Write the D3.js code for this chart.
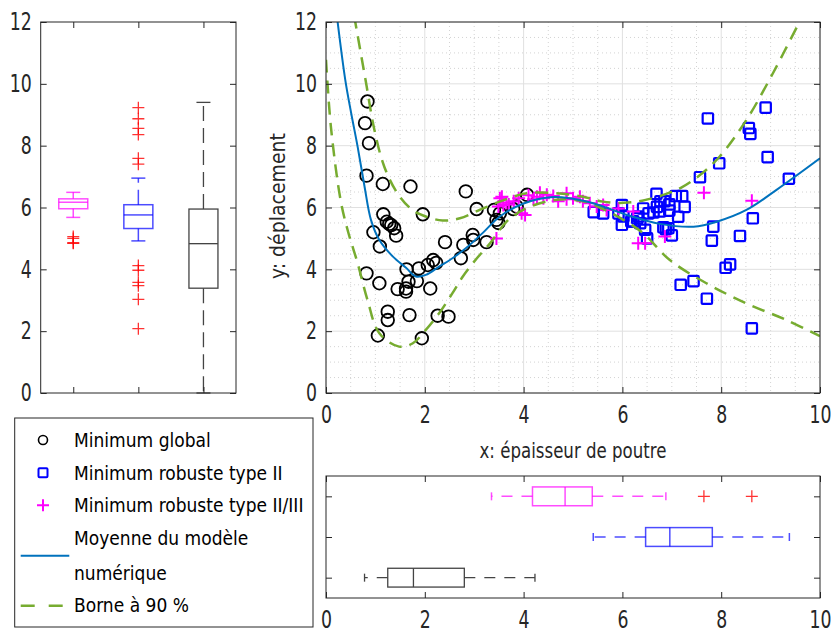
<!DOCTYPE html>
<html><head><meta charset="utf-8">
<script src="https://cdn.jsdelivr.net/npm/d3@7"></script>
<style>body{margin:0;background:#fff} svg{display:block}</style>
</head><body><svg id="c" width="834" height="634"></svg>
<script>
// ---------------- DATA ----------------
const seriesNames = ["Minimum global", "Minimum robuste type II", "Minimum robuste type II/III"];

const globalX = [0.84,0.79,0.87,0.82,1.15,1.71,0.96,1.16,1.28,1.38,1.42,1.09,1.96,0.82,1.08,1.25,1.25,1.05,1.69,1.94,1.45,1.62,1.62,1.67,1.63,1.84,1.88,2.11,2.06,2.17,2.23,2.26,2.48,2.41,2.73,2.78,2.83,2.97,2.98,3.05,3.25,3.45,3.52,3.40,3.79,3.49,3.86,4.07,1.32,1.23];
const globalY = [9.43,8.73,8.08,7.03,6.76,6.68,5.20,5.78,5.47,5.33,5.09,4.74,5.78,3.87,3.55,2.63,2.36,1.86,2.52,1.77,3.36,3.38,3.28,3.60,4.00,3.62,4.03,3.38,4.14,4.30,4.21,2.50,2.47,4.88,4.36,4.79,6.52,5.11,4.95,5.95,4.88,5.60,5.81,5.92,5.95,5.50,6.03,6.41,5.43,5.54];

const robustIIX = [8.90,7.73,8.56,8.59,8.94,7.96,9.37,7.57,8.64,7.84,7.81,8.38,8.18,8.09,7.44,7.18,7.71,8.62,6.69,7.08,7.21,6.85,7.26,6.95,7.13,6.77,6.76,6.63,6.53,6.42,5.99,5.92,6.02,5.99,6.18,6.30,6.32,6.50,6.46,6.83,6.88,6.93,7.00,5.61,5.42,6.70,6.95,6.22,6.36];
const robustIIY = [9.23,8.88,8.57,8.38,7.63,7.43,6.93,6.98,5.65,5.38,4.93,5.08,4.16,4.05,3.62,3.50,3.05,2.09,6.44,6.37,6.37,6.20,6.02,5.90,5.70,6.20,5.87,5.84,5.81,5.97,6.08,5.81,5.71,5.44,5.55,5.65,5.71,5.00,5.28,5.36,5.30,5.33,5.10,5.81,5.85,6.02,6.10,5.55,5.49];

const robustIIIX = [3.45,3.52,3.59,3.56,3.49,3.96,4.03,3.70,3.80,4.20,4.33,4.27,4.47,4.60,4.87,4.87,4.10,5.14,5.00,5.34,5.48,5.68,5.61,5.92,6.22,6.32,6.46,6.86,7.65,8.62,3.65,4.40,4.70,5.20,3.90];
const robustIIIY = [5.00,6.30,6.08,6.35,6.03,5.81,5.76,6.10,6.20,6.27,6.48,6.35,6.41,6.37,6.27,6.46,6.40,6.35,6.30,6.14,6.03,5.92,6.08,5.97,5.87,4.84,4.84,5.06,6.48,6.22,6.15,6.30,6.20,6.20,6.30];

const meanX = [0.22,0.39,0.51,0.64,0.78,0.91,1.08,1.35,1.62,1.82,2.02,2.29,2.56,2.83,3.20,3.52,4.00,4.60,5.00,5.41,6.09,6.76,7.44,7.91,8.51,9.12,10.0];
const meanY = [12.2,10.13,9.05,7.97,6.68,5.60,4.95,4.42,4.05,3.77,3.82,4.09,4.36,4.68,5.22,5.71,6.13,6.34,6.28,6.14,5.76,5.47,5.38,5.54,5.92,6.57,7.59];

const upperX = [0.57,0.80,0.98,1.18,1.45,1.75,2.02,2.36,2.71,3.12,3.50,4.06,4.67,5.20,5.61,6.02,6.40,6.90,7.20,7.57,7.97,8.51,9.05,9.58,9.80];
const upperY = [12.2,10.13,8.51,7.32,6.45,5.92,5.71,5.58,5.65,5.93,6.18,6.46,6.46,6.35,6.19,6.15,6.22,6.45,6.65,7.05,7.65,8.83,10.35,11.98,12.6];

const lowerX = [0.0,0.10,0.30,0.45,0.64,0.84,1.08,1.48,1.75,2.02,2.29,2.56,2.77,3.05,3.32,3.66,4.06,4.67,5.20,5.61,6.02,6.42,6.96,7.70,8.51,9.32,10.0];
const lowerY = [10.78,8.60,6.20,5.20,4.20,3.01,1.93,1.50,1.60,2.04,2.58,3.23,3.77,4.35,4.84,5.55,5.98,6.25,6.20,5.95,5.60,5.17,4.30,3.55,2.90,2.36,1.84];

// box plots
const boxKeys   = ["II/III", "II", "global"];
const boxColors = ["#FF00FF", "#0000FF", "#444444"];
// vertical box plots of y (left panel)
const yBoxLow  = [5.68, 4.92, 0.00];
const yBoxQ1   = [5.96, 5.32, 3.39];
const yBoxMed  = [6.17, 5.76, 4.83];
const yBoxQ3   = [6.28, 6.09, 5.95];
const yBoxHigh = [6.49, 6.95, 9.40];
const yOutliers = [[5.06, 5.00, 4.86, 4.84], [9.23, 8.87, 8.56, 8.36, 7.59, 7.40, 4.12, 3.97, 3.58, 3.47, 3.03, 2.08], []];
// horizontal box plots of x (bottom panel)
const xBoxLow  = [3.35, 5.41, 0.78];
const xBoxQ1   = [4.18, 6.47, 1.25];
const xBoxMed  = [4.84, 6.96, 1.77];
const xBoxQ3   = [5.39, 7.82, 2.80];
const xBoxHigh = [6.88, 9.38, 4.23];
const xOutliers = [[7.65, 8.62], [], []];

const xTicks = [0, 2, 4, 6, 8, 10];
const yTicks = [0, 2, 4, 6, 8, 10, 12];

// ---------------- DRAW ----------------
const FONT = "'Liberation Sans Narrow','DejaVu Sans Condensed','Arial Narrow',sans-serif";
const AX = "#262626";
const svg = d3.select("#c");

// horizontally condense a text element around its anchor x
function condense(sel, k) {
  sel.each(function () {
    const t = d3.select(this);
    const x = +t.attr("x") || 0;
    t.attr("transform", `translate(${x},0) scale(${k},1) translate(${-x},0)`);
  });
}

// geometry
const L = {x0: 40.7, x1: 236, y0: 22, y1: 393};
const M = {x0: 326, x1: 820, y0: 22, y1: 393};
const B = {x0: 326, x1: 820, y0: 476, y1: 598};

const xMain = d3.scaleLinear().domain([0, 10]).range([M.x0, M.x1]);
const yMain = d3.scaleLinear().domain([0, 12]).range([M.y1, M.y0]);
const yLeft = d3.scaleLinear().domain([0, 12]).range([L.y1, L.y0]);
const xLeft = d3.scalePoint().domain(boxKeys).range([L.x0, L.x1]).padding(0.5);
const xBot = d3.scaleLinear().domain([0, 10]).range([B.x0, B.x1]);
const yBot = d3.scalePoint().domain(boxKeys).range([B.y0, B.y1]).padding(0.5);

function styleAxis(g, labels) {
  g.select(".domain").remove();
  g.selectAll(".tick line").attr("stroke", AX).attr("stroke-width", 1);
  g.selectAll(".tick text").attr("fill", AX).style("font-family", FONT).style("font-size", "24px");
  if (!labels) g.selectAll(".tick text").remove();
  else condense(g.selectAll(".tick text"), 0.8);
}
function frame(P) {
  svg.append("rect").attr("x", P.x0).attr("y", P.y0).attr("width", P.x1 - P.x0).attr("height", P.y1 - P.y0)
    .attr("fill", "none").attr("stroke", AX).attr("stroke-width", 1);
}

// ----- main panel grid -----
const gGrid = svg.append("g");
const minorX = d3.range(0, 10.01, 0.5).filter(v => v % 2 !== 0);
const minorY = d3.range(0, 12.01, 0.5).filter(v => v % 2 !== 0);
gGrid.selectAll("line.mx").data(minorX).join("line")
  .attr("x1", d => xMain(d)).attr("x2", d => xMain(d)).attr("y1", M.y0).attr("y2", M.y1)
  .attr("stroke", "#c8c8c8").attr("stroke-width", 0.8).attr("stroke-dasharray", "1,3");
gGrid.selectAll("line.my").data(minorY).join("line")
  .attr("y1", d => yMain(d)).attr("y2", d => yMain(d)).attr("x1", M.x0).attr("x2", M.x1)
  .attr("stroke", "#c8c8c8").attr("stroke-width", 0.8).attr("stroke-dasharray", "1,3");
gGrid.selectAll("line.gx").data(xTicks).join("line")
  .attr("x1", d => xMain(d)).attr("x2", d => xMain(d)).attr("y1", M.y0).attr("y2", M.y1)
  .attr("stroke", "#e0e0e0").attr("stroke-width", 1);
gGrid.selectAll("line.gy").data(yTicks).join("line")
  .attr("y1", d => yMain(d)).attr("y2", d => yMain(d)).attr("x1", M.x0).attr("x2", M.x1)
  .attr("stroke", "#e0e0e0").attr("stroke-width", 1);

// clip
svg.append("clipPath").attr("id", "clipM").append("rect")
  .attr("x", M.x0).attr("y", M.y0).attr("width", M.x1 - M.x0).attr("height", M.y1 - M.y0);
const gM = svg.append("g").attr("clip-path", "url(#clipM)");

// points
const gPts = gM.append("g");
gPts.selectAll("circle").data(d3.range(globalX.length)).join("circle")
  .attr("cx", i => xMain(globalX[i])).attr("cy", i => yMain(globalY[i])).attr("r", 6.3)
  .attr("fill", "none").attr("stroke", "#000").attr("stroke-width", 1.8);
gPts.selectAll("rect").data(d3.range(robustIIX.length)).join("rect")
  .attr("x", i => xMain(robustIIX[i]) - 5.2).attr("y", i => yMain(robustIIY[i]) - 5.2)
  .attr("width", 10.4).attr("height", 10.4).attr("rx", 1)
  .attr("fill", "none").attr("stroke", "#0000FF").attr("stroke-width", 2.2);
function plusPath(cx, cy, s) { return `M${cx - s},${cy}H${cx + s}M${cx},${cy - s}V${cy + s}`; }
gPts.selectAll("path.pl").data(d3.range(robustIIIX.length)).join("path")
  .attr("d", i => plusPath(xMain(robustIIIX[i]), yMain(robustIIIY[i]), 6.5))
  .attr("stroke", "#FF00FF").attr("stroke-width", 2).attr("fill", "none");

// curves
const line = d3.line().curve(d3.curveCatmullRom.alpha(0.5));
gM.append("path").attr("d", line(upperX.map((x, i) => [xMain(x), yMain(upperY[i])])))
  .attr("fill", "none").attr("stroke", "#77AC30").attr("stroke-width", 2.5).attr("stroke-dasharray", "13,8");
gM.append("path").attr("d", line(lowerX.map((x, i) => [xMain(x), yMain(lowerY[i])])))
  .attr("fill", "none").attr("stroke", "#77AC30").attr("stroke-width", 2.5).attr("stroke-dasharray", "13,8");
gM.append("path").attr("d", line(meanX.map((x, i) => [xMain(x), yMain(meanY[i])])))
  .attr("fill", "none").attr("stroke", "#0072BD").attr("stroke-width", 2);

// main axes
frame(M);
svg.append("g").attr("transform", `translate(0,${M.y1})`)
  .call(d3.axisBottom(xMain).tickValues(xTicks).tickSizeInner(-6).tickSizeOuter(0).tickPadding(13))
  .call(g => styleAxis(g, true));
svg.append("g").attr("transform", `translate(0,${M.y0})`)
  .call(d3.axisTop(xMain).tickValues(xTicks).tickSizeInner(-6).tickSizeOuter(0))
  .call(g => styleAxis(g, false));
svg.append("g").attr("transform", `translate(${M.x0},0)`)
  .call(d3.axisLeft(yMain).tickValues(yTicks).tickSizeInner(-6).tickSizeOuter(0).tickPadding(9))
  .call(g => styleAxis(g, true));
svg.append("g").attr("transform", `translate(${M.x1},0)`)
  .call(d3.axisRight(yMain).tickValues(yTicks).tickSizeInner(-6).tickSizeOuter(0))
  .call(g => styleAxis(g, false));

svg.append("text").attr("x", (M.x0 + M.x1) / 2).attr("y", 458).attr("text-anchor", "middle")
  .style("font-family", FONT).style("font-size", "21px").attr("fill", AX).text("x: épaisseur de poutre")
  .call(s => condense(s, 0.88));
svg.append("text").attr("transform", `translate(285,206) rotate(-90)`).attr("text-anchor", "middle")
  .style("font-family", FONT).style("font-size", "21px").attr("fill", AX).text("y: déplacement");

// ----- left panel: vertical box plots -----
const gL = svg.append("g");
boxKeys.forEach((k, i) => {
  const cx = xLeft(k), hw = 14.5, cap = 7;
  const col = boxColors[i], op = i < 2 ? 0.7 : 1, sw = i < 2 ? 1.5 : 1.3;
  const g = gL.append("g").attr("stroke", col).attr("stroke-opacity", op).attr("fill", "none").attr("stroke-width", sw);
  g.append("line").attr("x1", cx).attr("x2", cx).attr("y1", yLeft(yBoxQ3[i])).attr("y2", yLeft(yBoxHigh[i])).attr("stroke-dasharray", "15,7");
  g.append("line").attr("x1", cx).attr("x2", cx).attr("y1", yLeft(yBoxQ1[i])).attr("y2", yLeft(yBoxLow[i])).attr("stroke-dasharray", "15,7");
  g.append("line").attr("x1", cx - cap).attr("x2", cx + cap).attr("y1", yLeft(yBoxHigh[i])).attr("y2", yLeft(yBoxHigh[i]));
  g.append("line").attr("x1", cx - cap).attr("x2", cx + cap).attr("y1", yLeft(yBoxLow[i])).attr("y2", yLeft(yBoxLow[i]));
  g.append("rect").attr("x", cx - hw).attr("width", 2 * hw).attr("y", yLeft(yBoxQ3[i])).attr("height", yLeft(yBoxQ1[i]) - yLeft(yBoxQ3[i]));
  g.append("line").attr("x1", cx - hw).attr("x2", cx + hw).attr("y1", yLeft(yBoxMed[i])).attr("y2", yLeft(yBoxMed[i]));
  gL.selectAll(null).data(yOutliers[i]).join("path")
    .attr("d", v => plusPath(cx, yLeft(v), 6)).attr("stroke", "#FF0000").attr("stroke-opacity", 0.8).attr("stroke-width", 1.3);
});
frame(L);
svg.append("g").attr("transform", `translate(${L.x0},0)`)
  .call(d3.axisLeft(yLeft).tickValues(yTicks).tickSizeInner(-6).tickSizeOuter(0).tickPadding(9))
  .call(g => styleAxis(g, true));
svg.append("g").attr("transform", `translate(${L.x1},0)`)
  .call(d3.axisRight(yLeft).tickValues(yTicks).tickSizeInner(-6).tickSizeOuter(0))
  .call(g => styleAxis(g, false));
svg.append("g").attr("transform", `translate(0,${L.y1})`)
  .call(d3.axisBottom(xLeft).tickSizeInner(-6).tickSizeOuter(0)).call(g => styleAxis(g, false));
svg.append("g").attr("transform", `translate(0,${L.y0})`)
  .call(d3.axisTop(xLeft).tickSizeInner(-6).tickSizeOuter(0)).call(g => styleAxis(g, false));

// ----- bottom panel: horizontal box plots -----
const gB = svg.append("g");
boxKeys.forEach((k, i) => {
  const cy = yBot(k), hh = 9.4, cap = 4;
  const col = boxColors[i], op = i < 2 ? 0.7 : 1, sw = i < 2 ? 1.5 : 1.3;
  const g = gB.append("g").attr("stroke", col).attr("stroke-opacity", op).attr("fill", "none").attr("stroke-width", sw);
  g.append("line").attr("y1", cy).attr("y2", cy).attr("x1", xBot(xBoxQ3[i])).attr("x2", xBot(xBoxHigh[i])).attr("stroke-dasharray", "11,9");
  g.append("line").attr("y1", cy).attr("y2", cy).attr("x1", xBot(xBoxQ1[i])).attr("x2", xBot(xBoxLow[i])).attr("stroke-dasharray", "11,9");
  g.append("line").attr("y1", cy - cap).attr("y2", cy + cap).attr("x1", xBot(xBoxHigh[i])).attr("x2", xBot(xBoxHigh[i]));
  g.append("line").attr("y1", cy - cap).attr("y2", cy + cap).attr("x1", xBot(xBoxLow[i])).attr("x2", xBot(xBoxLow[i]));
  g.append("rect").attr("y", cy - hh).attr("height", 2 * hh).attr("x", xBot(xBoxQ1[i])).attr("width", xBot(xBoxQ3[i]) - xBot(xBoxQ1[i]));
  g.append("line").attr("y1", cy - hh).attr("y2", cy + hh).attr("x1", xBot(xBoxMed[i])).attr("x2", xBot(xBoxMed[i]));
  gB.selectAll(null).data(xOutliers[i]).join("path")
    .attr("d", v => plusPath(xBot(v), cy, 6)).attr("stroke", "#FF0000").attr("stroke-opacity", 0.8).attr("stroke-width", 1.3);
});
frame(B);
svg.append("g").attr("transform", `translate(0,${B.y1})`)
  .call(d3.axisBottom(xBot).tickValues(xTicks).tickSizeInner(-6).tickSizeOuter(0).tickPadding(13))
  .call(g => styleAxis(g, true));
svg.append("g").attr("transform", `translate(0,${B.y0})`)
  .call(d3.axisTop(xBot).tickValues(xTicks).tickSizeInner(-6).tickSizeOuter(0))
  .call(g => styleAxis(g, false));
svg.append("g").attr("transform", `translate(${B.x0},0)`)
  .call(d3.axisLeft(yBot).tickSizeInner(-6).tickSizeOuter(0)).call(g => styleAxis(g, false));
svg.append("g").attr("transform", `translate(${B.x1},0)`)
  .call(d3.axisRight(yBot).tickSizeInner(-6).tickSizeOuter(0)).call(g => styleAxis(g, false));

// ----- legend -----
const gLeg = svg.append("g");
gLeg.append("rect").attr("x", 14.7).attr("y", 418).attr("width", 298.3).attr("height", 209)
  .attr("fill", "#fff").attr("stroke", AX).attr("stroke-width", 1);
const legTextX = 74;
const legRows = [440, 472.7, 505.3];
gLeg.append("circle").attr("cx", 43).attr("cy", legRows[0]).attr("r", 4.5).attr("fill", "none").attr("stroke", "#000").attr("stroke-width", 1.6);
gLeg.append("rect").attr("x", 38.5).attr("y", legRows[1] - 4.5).attr("width", 9).attr("height", 9).attr("rx", 1)
  .attr("fill", "none").attr("stroke", "#0000FF").attr("stroke-width", 2);
gLeg.append("path").attr("d", plusPath(43, legRows[2], 6)).attr("stroke", "#FF00FF").attr("stroke-width", 2);
gLeg.append("line").attr("x1", 20.7).attr("x2", 69.3).attr("y1", 555.7).attr("y2", 555.7).attr("stroke", "#0072BD").attr("stroke-width", 2);
gLeg.append("line").attr("x1", 20.7).attr("x2", 62.7).attr("y1", 605.7).attr("y2", 605.7).attr("stroke", "#77AC30").attr("stroke-width", 2.5).attr("stroke-dasharray", "14,14");
const legLabels = [[seriesNames[0], legRows[0]], [seriesNames[1], legRows[1]], [seriesNames[2], legRows[2]],
  ["Moyenne du modèle", 538], ["numérique", 573], ["Borne à 90 %", 605.5]];
gLeg.selectAll("text").data(legLabels).join("text")
  .attr("x", legTextX).attr("y", d => d[1]).attr("dy", "0.35em")
  .style("font-family", FONT).style("font-size", "20px").attr("fill", "#000").text(d => d[0])
  .call(s => condense(s, 0.95));
</script></body></html>
